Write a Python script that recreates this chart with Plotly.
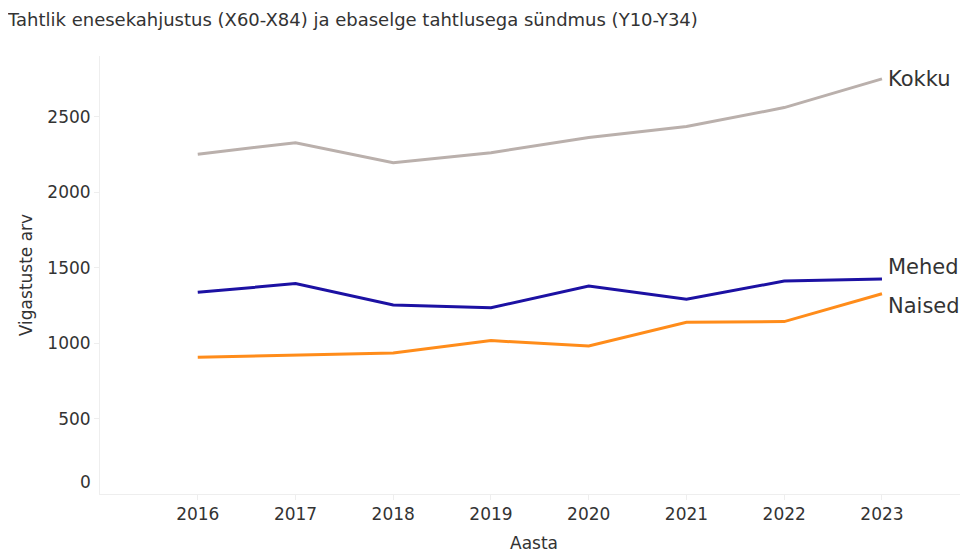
import plotly.graph_objects as go

years = [2016, 2017, 2018, 2019, 2020, 2021, 2022, 2023]
kokku = [2253, 2329, 2197, 2263, 2363, 2436, 2562, 2752]
mehed = [1337, 1395, 1253, 1235, 1379, 1291, 1412, 1426]
naised = [906, 922, 935, 1017, 981, 1139, 1143, 1328]

series = [
    ("Kokku", kokku, "#BAB0AC", 0),
    ("Mehed", mehed, "#1C11A3", 12),
    ("Naised", naised, "#FF8C1A", -12),
]

FONT = "DejaVu Sans"
TXT = "#333333"

fig = go.Figure()
for name, vals, color, yshift in series:
    fig.add_trace(go.Scatter(x=years, y=vals, mode="lines", name=name,
                             line=dict(color=color, width=3)))
    fig.add_annotation(x=years[-1], y=vals[-1], xref="x", yref="y",
                       text=name, showarrow=False, xanchor="left",
                       xshift=4, yshift=yshift,
                       font=dict(family=FONT, size=21, color=TXT))

# zero label sits slightly above the axis line
fig.add_annotation(x=0, y=0, xref="paper", yref="y", text="0",
                   showarrow=False, xanchor="right", xshift=-7, yshift=12,
                   font=dict(family=FONT, size=17, color=TXT))

fig.update_layout(
    width=960, height=545,
    margin=dict(l=92, r=0, t=48, b=59),
    paper_bgcolor="white", plot_bgcolor="white",
    showlegend=False,
    font=dict(family=FONT, color=TXT),
    title=dict(text="Tahtlik enesekahjustus (X60-X84) ja ebaselge tahtlusega sündmus (Y10-Y34)",
               x=0.0, xanchor="left", y=0.978, yanchor="middle",
               font=dict(family=FONT, size=18, color=TXT)),
    xaxis=dict(range=[2015, 2023.88], tickvals=years, ticktext=[str(y) for y in years],
               showgrid=False, zeroline=False, showline=True, linecolor="#EEEEEE",
               linewidth=1, ticks="outside", ticklen=5, tickcolor="#EEEEEE",
               tickfont=dict(family=FONT, size=17, color=TXT),
               title=dict(text="Aasta", standoff=13,
                          font=dict(family=FONT, size=17, color=TXT))),
    yaxis=dict(range=[0, 2904], tickvals=[500, 1000, 1500, 2000, 2500],
               showgrid=False, zeroline=False, showline=True, linecolor="#EEEEEE",
               linewidth=1, ticks="outside", ticklen=5, tickcolor="#EEEEEE",
               tickfont=dict(family=FONT, size=17, color=TXT),
               title=dict(text="Vigastuste arv", standoff=10,
                          font=dict(family=FONT, size=17, color=TXT))),
)

fig.write_html("out.html")
